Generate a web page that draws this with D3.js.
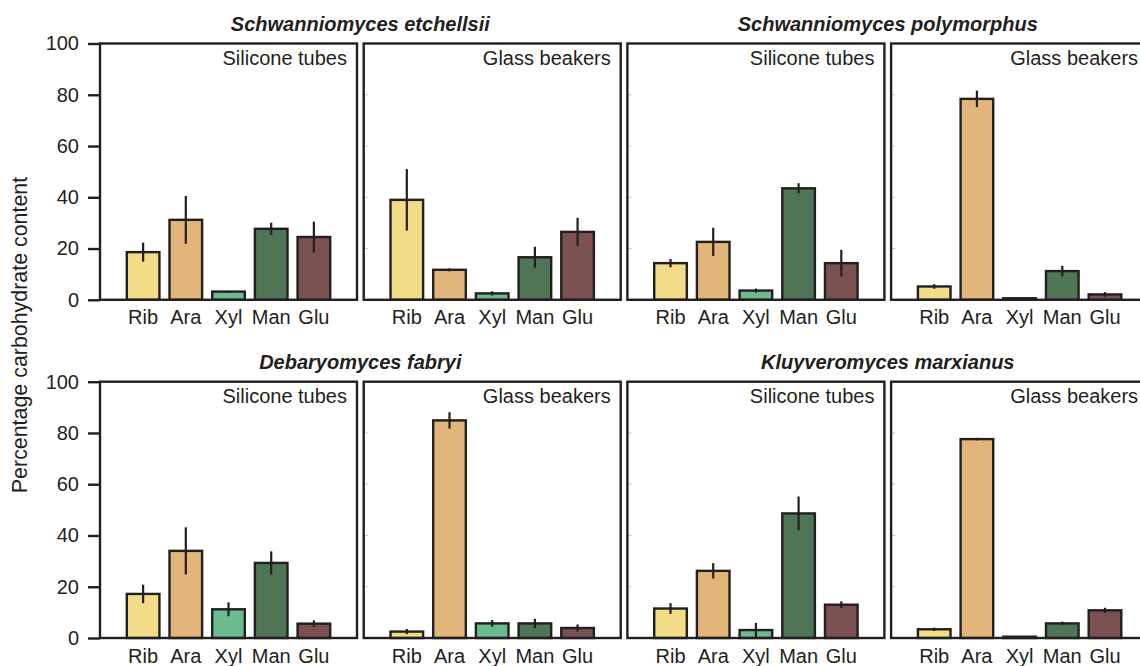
<!DOCTYPE html>
<html>
<head>
<meta charset="utf-8">
<script src="https://cdn.jsdelivr.net/npm/d3@7"></script>
<style>
  html, body { margin: 0; padding: 0; background: #fff; }
  svg { display: block; font-family: "Liberation Sans", Arial, Helvetica, sans-serif; }
</style>
</head>
<body>
<svg id="chart" width="1140" height="666"></svg>
<script>
// ---- data ----
const categories = ["Rib", "Ara", "Xyl", "Man", "Glu"];
const colors = ["#F3DC87", "#E2B57A", "#6CBB8E", "#4F7556", "#7B5050"];
const species = ["Schwanniomyces etchellsii", "Schwanniomyces polymorphus", "Debaryomyces fabryi", "Kluyveromyces marxianus"];
const conditions = ["Silicone tubes", "Glass beakers"];
const yTicks = [0, 20, 40, 60, 80, 100];

// means and errors per species, per condition (order of categories)
const etchellsiiSiliconeMean = [18.6, 31.2, 3.2, 27.7, 24.5];
const etchellsiiSiliconeErr  = [3.7, 9.3, 0.3, 2.4, 6.0];
const etchellsiiGlassMean    = [39.0, 11.7, 2.5, 16.6, 26.5];
const etchellsiiGlassErr     = [12.0, 0.6, 0.8, 4.1, 5.5];
const polymorphusSiliconeMean = [14.3, 22.6, 3.6, 43.5, 14.3];
const polymorphusSiliconeErr  = [1.6, 5.5, 0.8, 2.0, 5.2];
const polymorphusGlassMean    = [5.2, 78.4, 0.6, 11.2, 2.1];
const polymorphusGlassErr     = [0.9, 3.2, 0.2, 2.1, 0.9];
const fabryiSiliconeMean = [17.2, 34.0, 11.2, 29.3, 5.6];
const fabryiSiliconeErr  = [3.6, 9.2, 2.7, 4.5, 1.3];
const fabryiGlassMean    = [2.5, 84.9, 5.7, 5.7, 3.9];
const fabryiGlassErr     = [1.0, 3.2, 1.3, 1.8, 1.4];
const marxianusSiliconeMean = [11.5, 26.2, 3.1, 48.6, 13.0];
const marxianusSiliconeErr  = [2.1, 3.0, 2.8, 6.6, 1.3];
const marxianusGlassMean    = [3.4, 77.6, 0.5, 5.7, 10.8];
const marxianusGlassErr     = [0.6, 0.5, 0.2, 0.7, 1.0];

const panels = [
  { row: 0, col: 0, sp: 0, cond: 0, mean: etchellsiiSiliconeMean, err: etchellsiiSiliconeErr },
  { row: 0, col: 1, sp: 0, cond: 1, mean: etchellsiiGlassMean, err: etchellsiiGlassErr },
  { row: 0, col: 2, sp: 1, cond: 0, mean: polymorphusSiliconeMean, err: polymorphusSiliconeErr },
  { row: 0, col: 3, sp: 1, cond: 1, mean: polymorphusGlassMean, err: polymorphusGlassErr },
  { row: 1, col: 0, sp: 2, cond: 0, mean: fabryiSiliconeMean, err: fabryiSiliconeErr },
  { row: 1, col: 1, sp: 2, cond: 1, mean: fabryiGlassMean, err: fabryiGlassErr },
  { row: 1, col: 2, sp: 3, cond: 0, mean: marxianusSiliconeMean, err: marxianusSiliconeErr },
  { row: 1, col: 3, sp: 3, cond: 1, mean: marxianusGlassMean, err: marxianusGlassErr }
];

// ---- layout ----
const svg = d3.select("#chart");
const ink = "#231f20";
const panelLeft0 = 100, panelW = 257, panelStep = 263.7;
const rowTop = [43.5, 381.7], panelH = 256.3;

function panelX(col) { return panelLeft0 + col * panelStep; }

panels.forEach(p => {
  const x0 = panelX(p.col), y0 = rowTop[p.row];
  const x = d3.scaleBand().domain(categories).range([x0, x0 + panelW]).paddingInner(0.18).paddingOuter(0.6);
  const y = d3.scaleLinear().domain([0, 100]).range([y0 + panelH, y0]);
  const g = svg.append("g");

  // inner faint ticks
  if (p.col > 0) {
    g.selectAll("line.inner").data(yTicks.slice(1, -1)).join("line")
      .attr("x1", x0 + 1).attr("x2", x0 + 4)
      .attr("y1", d => y(d)).attr("y2", d => y(d))
      .attr("stroke", "#c8c8c8").attr("stroke-width", 1);
  }

  // bars
  g.selectAll("rect.bar").data(p.mean).join("rect")
    .attr("x", (d, i) => x(categories[i]) + 1.2)
    .attr("width", x.bandwidth() - 2.4)
    .attr("y", d => y(d))
    .attr("height", d => y(0) - y(d))
    .attr("fill", (d, i) => colors[i])
    .attr("stroke", ink).attr("stroke-width", 2.4);

  // error bars
  g.selectAll("line.err").data(p.mean).join("line")
    .attr("x1", (d, i) => x(categories[i]) + x.bandwidth() / 2)
    .attr("x2", (d, i) => x(categories[i]) + x.bandwidth() / 2)
    .attr("y1", (d, i) => y(Math.max(0, d - p.err[i])))
    .attr("y2", (d, i) => y(d + p.err[i]))
    .attr("stroke", ink).attr("stroke-width", 2.2);

  // frame
  g.append("rect").attr("x", x0).attr("y", y0).attr("width", panelW).attr("height", panelH)
    .attr("fill", "none").attr("stroke", ink).attr("stroke-width", 2.4);

  // condition label
  g.append("text").attr("x", x0 + panelW - 10).attr("y", y0 + 21)
    .attr("text-anchor", "end").attr("font-size", 20).attr("fill", ink)
    .text(conditions[p.cond]);

  // x category labels
  const xa = g.append("g").attr("transform", `translate(0,${y0 + panelH})`)
    .call(d3.axisBottom(x).tickSize(0).tickPadding(10.5));
  xa.select(".domain").remove();
  xa.selectAll("text").attr("font-size", 20).attr("fill", ink).attr("font-family", null);

  // y axis on first column
  if (p.col === 0) {
    const ya = g.append("g").attr("transform", `translate(${x0},0)`)
      .call(d3.axisLeft(y).tickValues(yTicks).tickSize(12).tickPadding(9));
    ya.select(".domain").remove();
    ya.selectAll("line").attr("stroke", ink).attr("stroke-width", 2.4);
    ya.selectAll("text").attr("font-size", 20).attr("fill", ink).attr("font-family", null);
  }
});

// species titles
species.forEach((s, i) => {
  const row = Math.floor(i / 2), pair = i % 2;
  const cx = (panelX(pair * 2) + panelX(pair * 2 + 1) + panelW) / 2;
  svg.append("text").attr("x", cx).attr("y", rowTop[row] - 13)
    .attr("text-anchor", "middle").attr("font-size", 20)
    .attr("font-weight", "bold").attr("font-style", "italic").attr("fill", ink)
    .text(s);
});

// y-axis title
svg.append("text").attr("transform", "translate(27,335) rotate(-90)")
  .attr("text-anchor", "middle").attr("font-size", 21.4).attr("fill", ink)
  .text("Percentage carbohydrate content");
</script>
</body>
</html>
